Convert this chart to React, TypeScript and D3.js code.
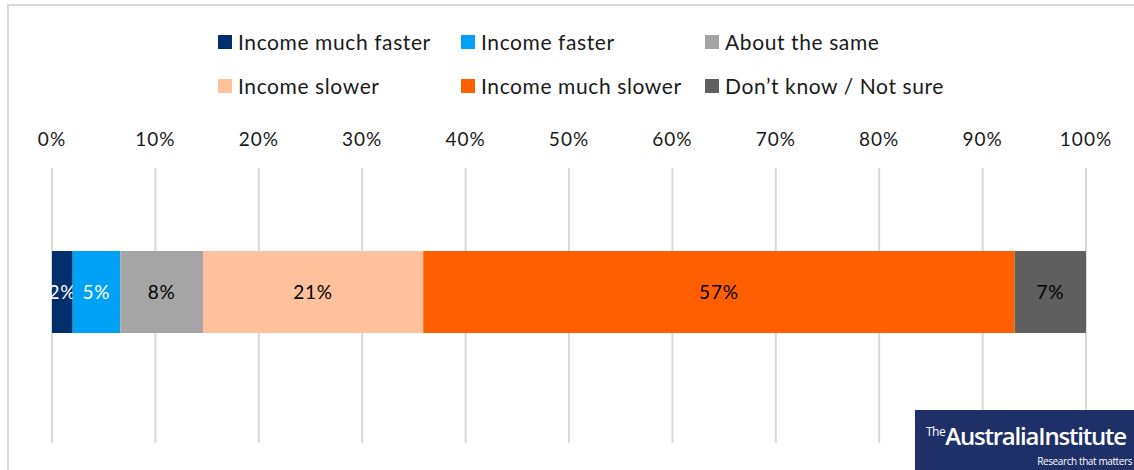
import React from "react";
import * as d3 from "d3";

const categories = ["Income much faster", "Income faster", "About the same", "Income slower", "Income much slower", "Don\u2019t know / Not sure"];
const values = [2.0, 4.6, 8.0, 21.3, 57.2, 6.9];
const labels = ["2%", "5%", "8%", "21%", "57%", "7%"];
const colors = ["#002f6c", "#00a2f5", "#a5a5a5", "#ffc19b", "#ff5f00", "#5f5f5f"];
const labelColors = ["#ffffff", "#ffffff", "#000000", "#000000", "#000000", "#000000"];
const ticks = [0, 10, 20, 30, 40, 50, 60, 70, 80, 90, 100];

const W = 1134, H = 470;
const FONT = "Lato, 'Open Sans', sans-serif";

export default function App() {
  const x = d3.scaleLinear().domain([0, 100]).range([52, 1086]);
  const barTop = 251, barH = 82;
  const stack = d3.stack<any>().keys(categories.map((_, i) => String(i)))([Object.fromEntries(values.map((v, i) => [String(i), v]))]);
  const legendX = [218, 461, 705];
  const legendY = [43, 87];
  return (
    <svg width={W} height={H} style={{ position: "absolute", left: 0, top: 0, background: "#fff" }} fontFamily={FONT}>
      <rect x={8} y={5} width={W} height={H} fill="none" stroke="#d9d9d9" strokeWidth={2} />
      {categories.map((c, i) => {
        const cx = legendX[i % 3], cy = legendY[Math.floor(i / 3)];
        return (
          <g key={c}>
            <rect x={cx} y={cy - 8} width={14} height={14} fill={colors[i]} />
            <text x={cx + 20} y={cy + 7} fontSize={21} letterSpacing={0.6} fill="#1a1a1a">{c}</text>
          </g>
        );
      })}
      {ticks.map(t => (
        <g key={t}>
          <line x1={x(t)} x2={x(t)} y1={168} y2={443} stroke="#d9d9d9" strokeWidth={2} />
          <text x={x(t)} y={146} textAnchor="middle" fontSize={19} letterSpacing={1} fill="#1a1a1a">{t}%</text>
        </g>
      ))}
      {stack.map((s, i) => {
        const x0 = x(s[0][0]), x1 = x(s[0][1]);
        return (
          <g key={i}>
            <rect x={x0} y={barTop} width={x1 - x0} height={barH} fill={colors[i]} />
            <text x={(x0 + x1) / 2} y={barTop + barH / 2 + 7} textAnchor="middle" fontSize={19} letterSpacing={0.8} fill={labelColors[i]}>{labels[i]}</text>
          </g>
        );
      })}
      <g>
        <rect x={915} y={410} width={W - 915} height={60} fill="#1f3068" />
        <text x={926} y={445} fill="#fff" fontFamily="'Open Sans', sans-serif">
          <tspan fontSize={12} dy={-9} letterSpacing={-0.5}>The</tspan>
          <tspan fontSize={24} dy={9} fontWeight={600} letterSpacing={-1.2}>AustraliaInstitute</tspan>
        </text>
        <text x={1132} y={465} textAnchor="end" fontSize={10} fill="#fff" fontFamily="'Open Sans', sans-serif" letterSpacing={-0.4}>Research that matters</text>
      </g>
    </svg>
  );
}
